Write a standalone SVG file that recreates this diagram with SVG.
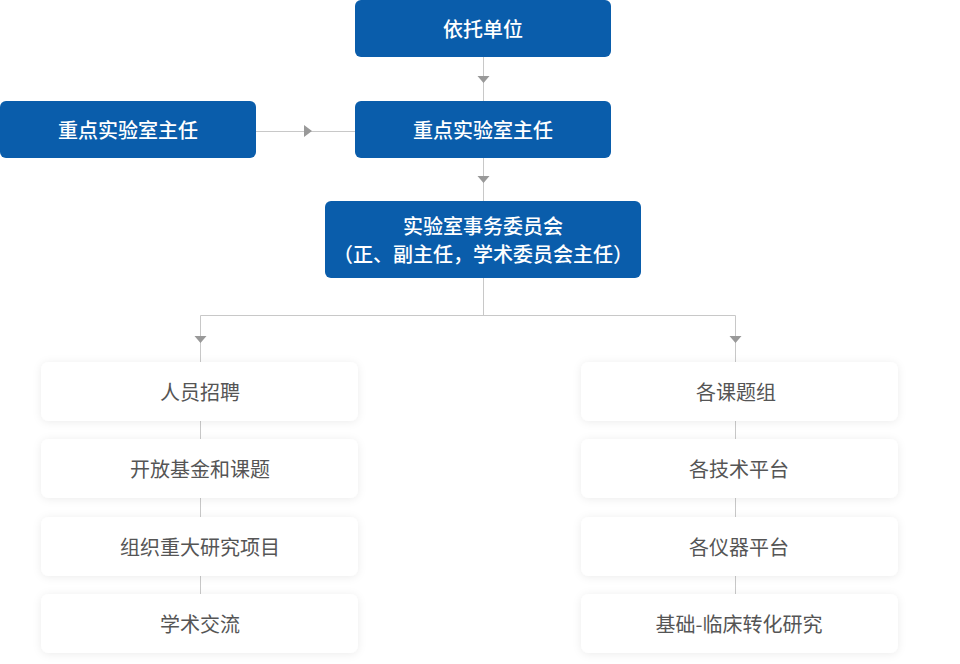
<svg xmlns="http://www.w3.org/2000/svg" width="960" height="664" viewBox="0 0 960 664">
<defs>
<style>
.blue rect{fill:#0a5dab}
.blue text{fill:#fff;font-family:"Noto Sans CJK SC","Noto Sans",sans-serif;font-size:20px;font-weight:500;text-anchor:middle;dominant-baseline:central}
.white rect{fill:#fff;filter:url(#sh)}
.white text{fill:#555;font-family:"Noto Sans CJK SC","Noto Sans",sans-serif;font-size:20px;text-anchor:middle;dominant-baseline:central}
.ln{stroke:#c8c8c8;stroke-width:1;fill:none}
.ah{fill:#999}
</style>
<filter id="sh" x="-10%" y="-30%" width="120%" height="160%">
<feDropShadow dx="0" dy="1" stdDeviation="4" flood-color="#000" flood-opacity="0.08"/>
</filter>
</defs>
<rect width="960" height="664" fill="#fff"/>
<g id="connectors">
<path class="ln" d="M483.5 57V101M256 131.5H355M483.5 158V201M483.5 278V315.5M200.5 315.5H735.5M200.5 315.5V362M735.5 315.5V362M200.5 421V439M200.5 498V517M200.5 576V594M735.5 421V439M735.5 498V517M735.5 576V594"/>
<path class="ah" d="M477.5 76H489.5L483.5 83ZM477.5 176H489.5L483.5 183ZM304 125V137L312 131ZM194.5 336H206.5L200.5 343ZM729.5 336H741.5L735.5 343Z"/>
</g>
<g id="n1" class="blue"><rect x="355" y="0" width="256" height="57" rx="6"/><text x="483" y="28.5">依托单位</text></g>
<g id="n2" class="blue"><rect x="0" y="101" width="256" height="57" rx="6"/><text x="128" y="129.5">重点实验室主任</text></g>
<g id="n3" class="blue"><rect x="355" y="101" width="256" height="57" rx="6"/><text x="483" y="129.5">重点实验室主任</text></g>
<g id="n4" class="blue"><rect x="325" y="201" width="316" height="77" rx="6"/><text x="483" y="225.5">实验室事务委员会</text><text x="483" y="253">（正、副主任，学术委员会主任）</text></g>
<g id="l1" class="white"><rect x="41" y="362" width="317" height="59" rx="8"/><text x="200" y="391">人员招聘</text></g>
<g id="l2" class="white"><rect x="41" y="439" width="317" height="59" rx="8"/><text x="200" y="468">开放基金和课题</text></g>
<g id="l3" class="white"><rect x="41" y="517" width="317" height="59" rx="8"/><text x="200" y="546">组织重大研究项目</text></g>
<g id="l4" class="white"><rect x="41" y="594" width="317" height="59" rx="8"/><text x="200" y="623">学术交流</text></g>
<g id="r1" class="white"><rect x="581" y="362" width="317" height="59" rx="8"/><text x="736" y="391">各课题组</text></g>
<g id="r2" class="white"><rect x="581" y="439" width="317" height="59" rx="8"/><text x="739" y="468">各技术平台</text></g>
<g id="r3" class="white"><rect x="581" y="517" width="317" height="59" rx="8"/><text x="739" y="546">各仪器平台</text></g>
<g id="r4" class="white"><rect x="581" y="594" width="317" height="59" rx="8"/><text x="739" y="623">基础-临床转化研究</text></g>
</svg>
